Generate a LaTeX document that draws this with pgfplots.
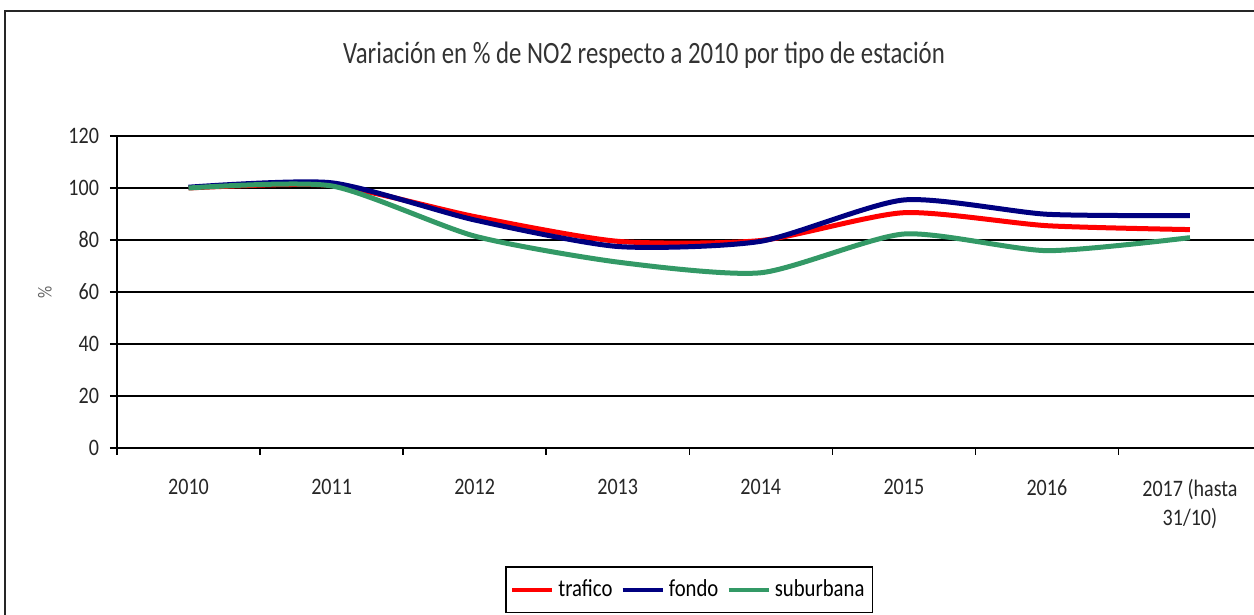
\documentclass[border=0pt]{standalone}
\usepackage{pgfplots}
\pgfplotsset{compat=1.18}
\usepackage{fontspec}
\setmainfont{Carlito}[FakeStretch=0.85]
\newfontfamily\titlefont{Carlito}[FakeStretch=0.8]
\definecolor{trafico}{RGB}{255,0,0}
\definecolor{fondo}{RGB}{0,0,128}
\definecolor{suburbana}{RGB}{51,153,102}
\begin{document}
\begin{tikzpicture}
\path[use as bounding box] (0,0) rectangle (627pt,307.5pt);
\clip (0,0) rectangle (627pt,307.5pt);
\draw[line width=1pt, black!85] (2.5pt,-5pt) -- (2.5pt,302pt) -- (640pt,302pt);
\node[font=\titlefont\fontsize{15.5}{18}\selectfont, text=black!80] at (322pt,280pt) {Variación en \% de NO2 respecto a 2010 por tipo de estación};
\begin{axis}[
  at={(58.5pt,83.5pt)}, anchor=south west,
  scale only axis, width=572.25pt, height=156pt,
  xmin=-0.5, xmax=7.5, ymin=0, ymax=120,
  axis x line*=bottom, axis y line*=left,
  axis line style={black, line width=0.8pt},
  ytick={0,20,...,120},
  ymajorgrids, grid style={black, line width=0.7pt},
  xtick={-0.5,0.5,...,7.5},
  x tick label as interval,
  xticklabels={2010,2011,2012,2013,2014,2015,2016,{2017 (hasta\\31/10)}},
  tick align=outside, major tick length=3.5pt,
  tick style={black, line width=0.7pt},
  /pgf/number format/assume math mode=true,
  tick label style={font=\fontsize{11.8}{14.5}\selectfont, text=black!85},
  x tick label style={align=center, yshift=-8.5pt},
  y tick label style={xshift=-2pt},
  ylabel={\%},
  ylabel style={at={(axis description cs:-0.063,0.5)}, anchor=center, font=\fontsize{10}{12}\selectfont, text=black!60},
  legend columns=3,
  legend style={at={(0.5,-0.378)}, anchor=north, draw=black, line width=0.8pt,
    font=\fontsize{12.2}{15}\selectfont, inner xsep=2pt, inner ysep=4.5pt,
    /tikz/every even column/.append style={column sep=2pt}},
  legend image code/.code={\draw[#1, line width=2.2pt] (0pt,0pt) -- (20pt,0pt);},
  every axis plot/.append style={line width=2.5pt, smooth, tension=0.4},
]
\addplot[trafico] coordinates {(0,100) (1,101) (2,89) (3,79.5) (4,79.8) (5,90.5) (6,85.5) (7,84)};
\addlegendentry{trafico}
\addplot[fondo] coordinates {(0,100.3) (1,102) (2,87.7) (3,77.5) (4,79.5) (5,95.4) (6,89.9) (7,89.4)};
\addlegendentry{fondo}
\addplot[suburbana] coordinates {(0,100) (1,100.8) (2,81.5) (3,71.5) (4,67.4) (5,82.3) (6,75.9) (7,80.9)};
\addlegendentry{suburbana}
\end{axis}
\end{tikzpicture}
\end{document}
